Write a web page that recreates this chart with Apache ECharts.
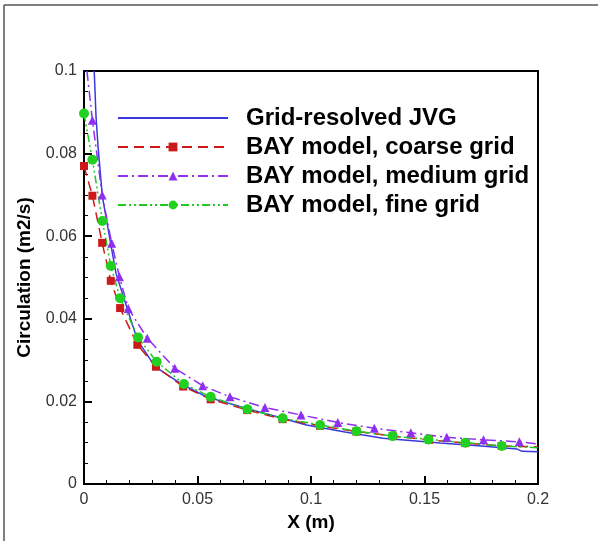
<!DOCTYPE html>
<html><head><meta charset="utf-8">
<script src="https://cdn.jsdelivr.net/npm/echarts@6/dist/echarts.min.js"></script>
<style>html,body{margin:0;padding:0;background:#fff}#c{width:606px;height:541px}</style>
</head><body><div id="c"></div>
<script>
var seriesNames = ['Grid-resolved JVG','BAY model, coarse grid','BAY model, medium grid','BAY model, fine grid'];
var xTicks = [0, 0.05, 0.1, 0.15, 0.2];
var yTicks = [0, 0.02, 0.04, 0.06, 0.08, 0.1];

var jvg = [[0.0045,0.1],[0.0053,0.0889],[0.0063,0.0809],[0.0081,0.0696],[0.0115,0.059],[0.0141,0.051],[0.0188,0.0429],[0.0235,0.0349],[0.0313,0.0284],[0.0423,0.0244],[0.054,0.0211],[0.0717,0.0183],[0.085,0.0163],[0.098,0.0143],[0.115,0.0126],[0.1317,0.0111],[0.145,0.0105],[0.157,0.0099],[0.175,0.0092],[0.1907,0.0085],[0.193,0.0079],[0.2,0.0078]];
var coarse = [[0,0.077],[0.0037,0.0698],[0.008,0.0584],[0.0118,0.0492],[0.0159,0.0426],[0.0235,0.0337],[0.0317,0.0284],[0.0437,0.0236],[0.0558,0.0205],[0.0719,0.0179],[0.0875,0.0157],[0.104,0.0141],[0.12,0.0127],[0.136,0.0116],[0.152,0.0107],[0.168,0.0099],[0.184,0.0092],[0.2,0.009]];
var medium = [[0.0013,0.1],[0.0037,0.0881],[0.008,0.07],[0.0122,0.0583],[0.0156,0.0502],[0.0195,0.0425],[0.0279,0.0353],[0.040,0.028],[0.0523,0.0238],[0.0643,0.0211],[0.0797,0.0185],[0.0956,0.0167],[0.1118,0.0149],[0.1279,0.0135],[0.144,0.0124],[0.1598,0.0113],[0.176,0.0107],[0.1918,0.0102],[0.2,0.0097]];
var fine = [[0,0.0897],[0.0037,0.0785],[0.0081,0.0637],[0.0118,0.0528],[0.0159,0.045],[0.0238,0.0355],[0.032,0.0296],[0.044,0.0242],[0.0558,0.0211],[0.072,0.0181],[0.0875,0.0159],[0.104,0.0143],[0.12,0.0128],[0.136,0.0116],[0.1517,0.0108],[0.168,0.01],[0.184,0.0092],[0.2,0.0088]];

function withMarkers(arr, noSymbolIdx){
  return arr.map(function(p,i){
    if (noSymbolIdx.indexOf(i) >= 0) return {value:p, symbol:'none'};
    return {value:p};
  });
}

var FONT = 'Liberation Sans, Arial, sans-serif';
var chart = echarts.init(document.getElementById('c'), null, {renderer:'canvas'});
var labelFont = {fontFamily:FONT, fontSize:16, color:'#333'};
chart.setOption({
  animation:false,
  backgroundColor:'#fff',
  grid:{left:84, right:68, top:71, bottom:57, show:true, borderColor:'#000', borderWidth:2, backgroundColor:'transparent'},
  legend:{
    orient:'vertical', left:117, top:106, padding:0, itemWidth:110, itemHeight:11, itemGap:5,
    data:[
      {name:seriesNames[0], itemStyle:{color:'rgba(0,0,0,0)', borderWidth:0}},
      {name:seriesNames[1]},
      {name:seriesNames[2]},
      {name:seriesNames[3]}
    ],
    textStyle:{fontFamily:FONT, fontSize:24, lineHeight:24, fontWeight:'bold', color:'#000', padding:[0,0,0,13]}
  },
  xAxis:{
    type:'value', min:xTicks[0], max:xTicks[xTicks.length-1], interval:0.05,
    name:'X (m)', nameLocation:'middle', nameGap:27,
    nameTextStyle:{fontFamily:FONT, fontSize:19, fontWeight:'bold', color:'#000'},
    axisLine:{lineStyle:{color:'#000', width:2}},
    axisTick:{inside:true, length:8, lineStyle:{color:'#000', width:2}},
    minorTick:{show:true, splitNumber:5, length:4, lineStyle:{color:'#000', width:1}},
    splitLine:{show:false},
    axisLabel:Object.assign({margin:8}, labelFont)
  },
  yAxis:{
    type:'value', min:yTicks[0], max:yTicks[yTicks.length-1], interval:0.02,
    name:'Circulation (m2/s)', nameLocation:'middle', nameGap:50,
    nameTextStyle:{fontFamily:FONT, fontSize:19, fontWeight:'bold', color:'#000'},
    axisLine:{lineStyle:{color:'#000', width:2}},
    axisTick:{inside:true, length:8, lineStyle:{color:'#000', width:2}},
    minorTick:{show:true, splitNumber:4, length:4, lineStyle:{color:'#000', width:1}},
    splitLine:{show:false},
    axisLabel:Object.assign({margin:7}, labelFont)
  },
  graphic:[
    {type:'line', shape:{x1:4, y1:5, x2:598, y2:5}, style:{stroke:'#555', lineWidth:1.5}},
    {type:'line', shape:{x1:4, y1:5, x2:4, y2:541}, style:{stroke:'#555', lineWidth:1.5}}
  ],
  series:[
    {name:seriesNames[0], type:'line', data:jvg, showSymbol:false, symbol:'none',
     lineStyle:{color:'#3838e0', width:1.5}, itemStyle:{color:'#3838e0'}, clip:true},
    {name:seriesNames[1], type:'line', data:withMarkers(coarse,[coarse.length-1]), symbol:'rect', symbolSize:8,
     lineStyle:{color:'#cc1a1a', width:1.5, type:[10,6]}, itemStyle:{color:'#cc1a1a'}, clip:true},
    {name:seriesNames[2], type:'line', data:withMarkers(medium,[0, medium.length-1]), symbol:'triangle', symbolSize:9,
     lineStyle:{color:'#8f2ff0', width:1.5, type:[10,4,2,4]}, itemStyle:{color:'#8f2ff0'}, clip:true},
    {name:seriesNames[3], type:'line', data:withMarkers(fine,[fine.length-1]), symbol:'circle', symbolSize:10,
     lineStyle:{color:'#22c822', width:1.5, type:[8,3,2,3,2,3]}, itemStyle:{color:'#22d022'}, clip:true}
  ]
});
</script></body></html>
